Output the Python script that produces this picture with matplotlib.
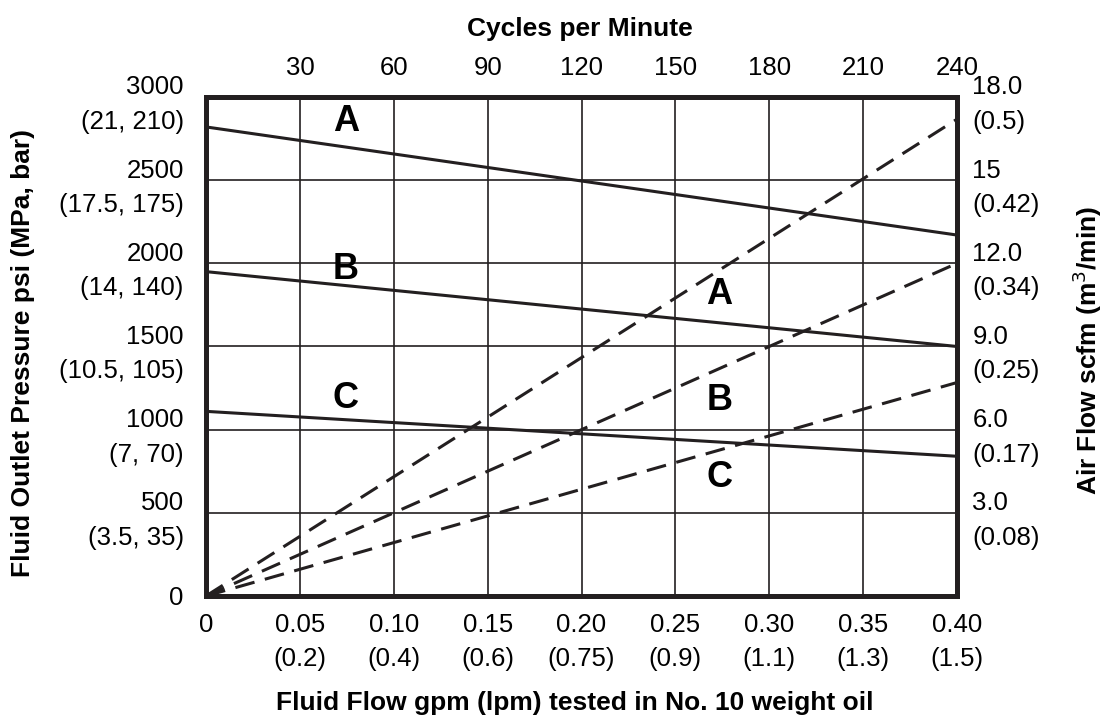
import matplotlib
matplotlib.use("Agg")
import matplotlib.pyplot as plt

plt.rcParams['font.family'] = ['Liberation Sans', 'DejaVu Sans']

# ---- data ----
flow_gpm = [0.0, 0.40]
pressure_A = [2820, 2170]
pressure_B = [1950, 1500]
pressure_C = [1110, 840]
air_A = [0.0, 17.2]
air_B = [0.0, 12.0]
air_C = [0.0, 7.7]

flow_ticks = [0, 0.05, 0.10, 0.15, 0.20, 0.25, 0.30, 0.35, 0.40]
flow_labels = ["0", "0.05\n(0.2)", "0.10\n(0.4)", "0.15\n(0.6)", "0.20\n(0.75)",
               "0.25\n(0.9)", "0.30\n(1.1)", "0.35\n(1.3)", "0.40\n(1.5)"]
psi_ticks = [0, 500, 1000, 1500, 2000, 2500, 3000]
psi_labels = ["0", "500\n(3.5, 35)", "1000\n(7, 70)", "1500\n(10.5, 105)",
              "2000\n(14, 140)", "2500\n(17.5, 175)", "3000\n(21, 210)"]
air_ticks = [3, 6, 9, 12, 15, 18]
air_labels = ["3.0\n(0.08)", "6.0\n(0.17)", "9.0\n(0.25)", "12.0\n(0.34)",
              "15\n(0.42)", "18.0\n(0.5)"]
cycle_ticks = [30, 60, 90, 120, 150, 180, 210, 240]

# curve letters: (label, flow, psi)
letters = [("A", 0.0745, 2850), ("B", 0.0745, 1960), ("C", 0.0745, 1190),
           ("A", 0.2735, 1810), ("B", 0.2735, 1178), ("C", 0.2735, 715)]

ink = "#231f20"
tick_fs = 18.5
label_fs = 19

fig = plt.figure(figsize=(11.07, 7.19), dpi=100)
ax = fig.add_axes([0.1861, 0.1711, 0.8645 - 0.1861, 0.8651 - 0.1711])
ax.set_xlim(0, 0.40)
ax.set_ylim(0, 3000)

# grid
for x in flow_ticks[1:-1]:
    ax.axvline(x, color=ink, lw=1.2, zorder=1)
for y in psi_ticks[1:-1]:
    ax.axhline(y, color=ink, lw=1.2, zorder=1)

# pressure lines (solid)
for p in (pressure_A, pressure_B, pressure_C):
    ax.plot(flow_gpm, p, color=ink, lw=2.2, solid_capstyle="butt", zorder=3)

# air flow (dashed, right axis)
ax2 = ax.twinx()
ax2.set_ylim(0, 18)
for a in (air_A, air_B, air_C):
    ax2.plot(flow_gpm, a, color=ink, lw=2.2, dashes=(6.5, 3.5), zorder=3)

for s, x, y in letters:
    ax.text(x, y, s, fontsize=26, fontweight="bold", ha="center", va="center",
            color="black", zorder=4)

for a_ in (ax, ax2):
    for sp in a_.spines.values():
        sp.set_linewidth(3.5)
        sp.set_color(ink)
        sp.set_zorder(5)

ax.set_xticks(flow_ticks, labels=flow_labels, fontsize=tick_fs, linespacing=1.55)
ax.set_yticks(psi_ticks, labels=psi_labels, fontsize=tick_fs, linespacing=1.55)
ax2.set_yticks(air_ticks, labels=air_labels, fontsize=tick_fs, linespacing=1.55)
ax.tick_params(axis="x", length=0, pad=12)
ax.tick_params(axis="y", length=0, pad=16)
ax2.tick_params(axis="y", length=0, pad=11)

top = ax.secondary_xaxis("top", functions=(lambda x: x * 600, lambda c: c / 600))
top.set_xticks(cycle_ticks, labels=[str(c) for c in cycle_ticks], fontsize=tick_fs)
top.tick_params(length=0, pad=12)
top.spines["top"].set_visible(False)

# axis titles
fig.text(0.524, 0.960, "Cycles per Minute", fontsize=19, fontweight="bold",
         ha="center", va="center")
fig.text(0.519, 0.0223, "Fluid Flow gpm (lpm) tested in No. 10 weight oil",
         fontsize=label_fs, fontweight="bold", ha="center", va="center")
fig.text(0.0208, 0.509, "Fluid Outlet Pressure psi (MPa, bar)", fontsize=label_fs,
         fontweight="bold", ha="center", va="center", rotation=90)
fig.text(0.982, 0.513, "Air Flow scfm (m$^3$/min)", fontsize=label_fs,
         fontweight="bold", ha="center", va="center", rotation=90)

fig.savefig("out.png", dpi=100)
